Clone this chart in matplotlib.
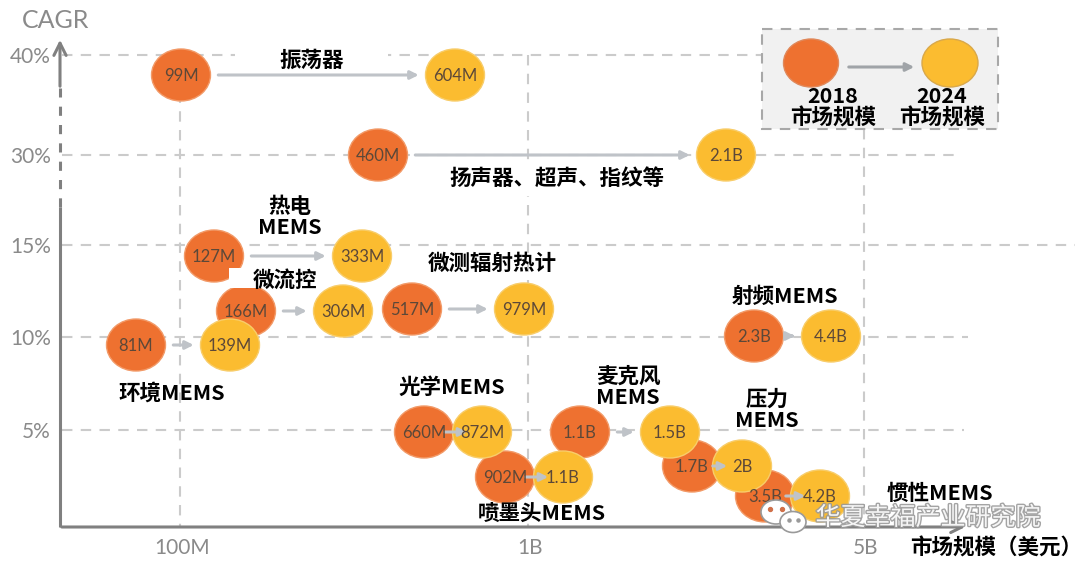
import matplotlib.pyplot as plt
from matplotlib.patches import Ellipse, Rectangle
from matplotlib import patheffects

groups = ['振荡器', '扬声器、超声、指纹等', '热电\nMEMS', '微流控', '环境MEMS', '微测辐射热计',
          '射频MEMS', '光学MEMS', '喷墨头MEMS', '麦克风\nMEMS', '压力\nMEMS', '惯性MEMS']
size_2018 = ['99M', '460M', '127M', '166M', '81M', '517M', '2.3B', '660M', '902M', '1.1B', '1.7B', '3.5B']
size_2024 = ['604M', '2.1B', '333M', '306M', '139M', '979M', '4.4B', '872M', '1.1B', '1.5B', '2B', '4.2B']
x_2018 = [181, 378, 214, 246, 136, 412, 754, 424, 505, 580, 692, 765]
x_2024 = [455, 726, 362, 343, 230, 524, 831, 482, 563, 670, 742, 820]
y_bubble = [75, 155, 256, 311, 345, 309, 336, 432, 477, 432, 466, 496]
label_x = [312, 557, 290, 285, 172, 492, 785, 452, 542, 628, 767, 940]
label_y = [60, 178, 217, 280, 393, 263, 296, 387, 513, 387, 410, 493]

cagr_labels = ['40%', '30%', '15%', '10%', '5%']
cagr_y = [55, 155, 245, 337, 430]
grid_end = [762, 958, 1075, 968, 964]
size_labels = ['100M', '1B', '5B']
size_x = [180, 528, 864]
vline_top = [55, 55, 129]

ORANGE = '#EE7130'
YELLOW = '#FBBC30'
GRAY = '#808080'
GRID = '#cbcbcb'
CJK = ['Noto Sans CJK SC', 'DejaVu Sans']

fig = plt.figure(figsize=(10.8, 5.68), dpi=100)
ax = fig.add_axes([0, 0, 1, 1])
ax.set_xlim(0, 1080)
ax.set_ylim(568, 0)
ax.axis('off')

# Cuadricula punteada
for y, xe in zip(cagr_y, grid_end):
    ax.plot([62, xe], [y, y], color=GRID, lw=1.5, dashes=(5, 4), zorder=1)
for x, yt in zip(size_x, vline_top):
    ax.plot([x, x], [yt, 527], color=GRID, lw=1.5, dashes=(5, 4), zorder=1)

# Ejes con flecha
ax.plot([60, 60], [527, 207], color=GRAY, lw=2.2, zorder=2, solid_capstyle='butt')
ax.plot([60, 60], [207, 88], color=GRAY, lw=2.2, dashes=(3, 3), zorder=2)
ax.annotate('', xy=(60, 37), xytext=(60, 89),
            arrowprops=dict(arrowstyle='->', lw=2.2, color=GRAY, mutation_scale=22))
ax.annotate('', xy=(968, 527), xytext=(59, 527),
            arrowprops=dict(arrowstyle='->', lw=2.2, color=GRAY, mutation_scale=20))

# Etiquetas de ejes
for lab, y in zip(cagr_labels, cagr_y):
    ax.text(51, y + 2, lab, ha='right', va='center', fontsize=15, color='#8a8a8a', family='Lato')
for lab, x in zip(size_labels, size_x):
    ax.text(x + 2, 548, lab, ha='center', va='center', fontsize=15, color='#8a8a8a', family='Lato')
ax.text(56, 20, 'CAGR', ha='center', va='center', fontsize=18, color='#8a8a8a', family='Lato')
ax.text(996, 548, '市场规模（美元）', ha='center', va='center', fontsize=15.5,
        fontweight='heavy', family=CJK, color='black')

# Fondos blancos detras de algunos textos
ax.add_patch(Rectangle((235, 42), 153, 28, facecolor='white', edgecolor='none', zorder=1.5))
ax.add_patch(Rectangle((229, 268), 112, 20, facecolor='white', edgecolor='none', zorder=2.5))
ax.add_patch(Rectangle((450, 162), 220, 34, facecolor='white', edgecolor='none', zorder=1.5))

# Burbujas
W, H = 59, 52
for x, y in zip(x_2018, y_bubble):
    ax.add_patch(Ellipse((x, y), W, H, facecolor=ORANGE, edgecolor='#f29a68', lw=1, zorder=2))
for x, y in zip(x_2024, y_bubble):
    ax.add_patch(Ellipse((x, y), W, H, facecolor=YELLOW, edgecolor='#f8cd6a', lw=1, zorder=3))

# Flechas 2018 -> 2024
for x1, x2, y in zip(x_2018, x_2024, y_bubble):
    if x2 - x1 > 70:
        xs, xe = x1 + W / 2 + 5, x2 - W / 2 - 4
    else:
        xs, xe = x1 + 18, x2 - 12
    ax.annotate('', xy=(xe, y), xytext=(xs, y),
                arrowprops=dict(arrowstyle='-|>', lw=2.2, color='#bfc3c8', mutation_scale=12),
                zorder=4)

for x, y, t in zip(x_2018, y_bubble, size_2018):
    ax.text(x, y + 1, t, ha='center', va='center', fontsize=12, color='#5c4838', family='Lato', zorder=5)
for x, y, t in zip(x_2024, y_bubble, size_2024):
    ax.text(x, y + 1, t, ha='center', va='center', fontsize=12, color='#5c4838', family='Lato', zorder=5)

# Nombres de cada segmento
for x, y, t in zip(label_x, label_y, groups):
    ax.text(x, y, t, ha='center', va='center', fontsize=15.5, fontweight='heavy',
            family=CJK, color='black', linespacing=1.0, zorder=6)

# Leyenda
ax.add_patch(Rectangle((762, 29), 236, 100, facecolor='#f1f1f1', edgecolor='#a8a8a8',
                       lw=1.5, linestyle=(0, (5, 4)), zorder=1.5))
ax.add_patch(Ellipse((811, 63), 55, 48, facecolor=ORANGE, edgecolor='#e0885a', lw=1, zorder=3))
ax.add_patch(Ellipse((950, 63), 56, 48, facecolor=YELLOW, edgecolor='#d9a84a', lw=1, zorder=3))
ax.annotate('', xy=(917, 67), xytext=(846, 67),
            arrowprops=dict(arrowstyle='-|>', lw=2.2, color='#a0a4a8', mutation_scale=12))
ax.text(833, 107, '2018\n市场规模', ha='center', va='center', fontsize=15.5, fontweight='heavy',
        family=CJK, linespacing=1.0, zorder=6)
ax.text(942, 107, '2024\n市场规模', ha='center', va='center', fontsize=15.5, fontweight='heavy',
        family=CJK, linespacing=1.0, zorder=6)

# Marca de agua
ax.add_patch(Ellipse((776, 512), 30, 24, facecolor='white', edgecolor='#9a9a9a', lw=1.2, zorder=7))
ax.add_patch(Ellipse((793, 522), 26, 21, facecolor='white', edgecolor='#9a9a9a', lw=1.2, zorder=7))
ax.scatter([770, 782], [509, 509], s=8, color='#d0704a', zorder=8)
ax.scatter([789, 798], [520, 520], s=5, color='#9a9a9a', zorder=8)
ax.text(928, 518, '华夏幸福产业研究院', ha='center', va='center', fontsize=18, family=CJK,
        color='white', alpha=0.9, zorder=7,
        path_effects=[patheffects.withStroke(linewidth=2, foreground='#9a9a9a')])

fig.savefig('out.png', dpi=100)
